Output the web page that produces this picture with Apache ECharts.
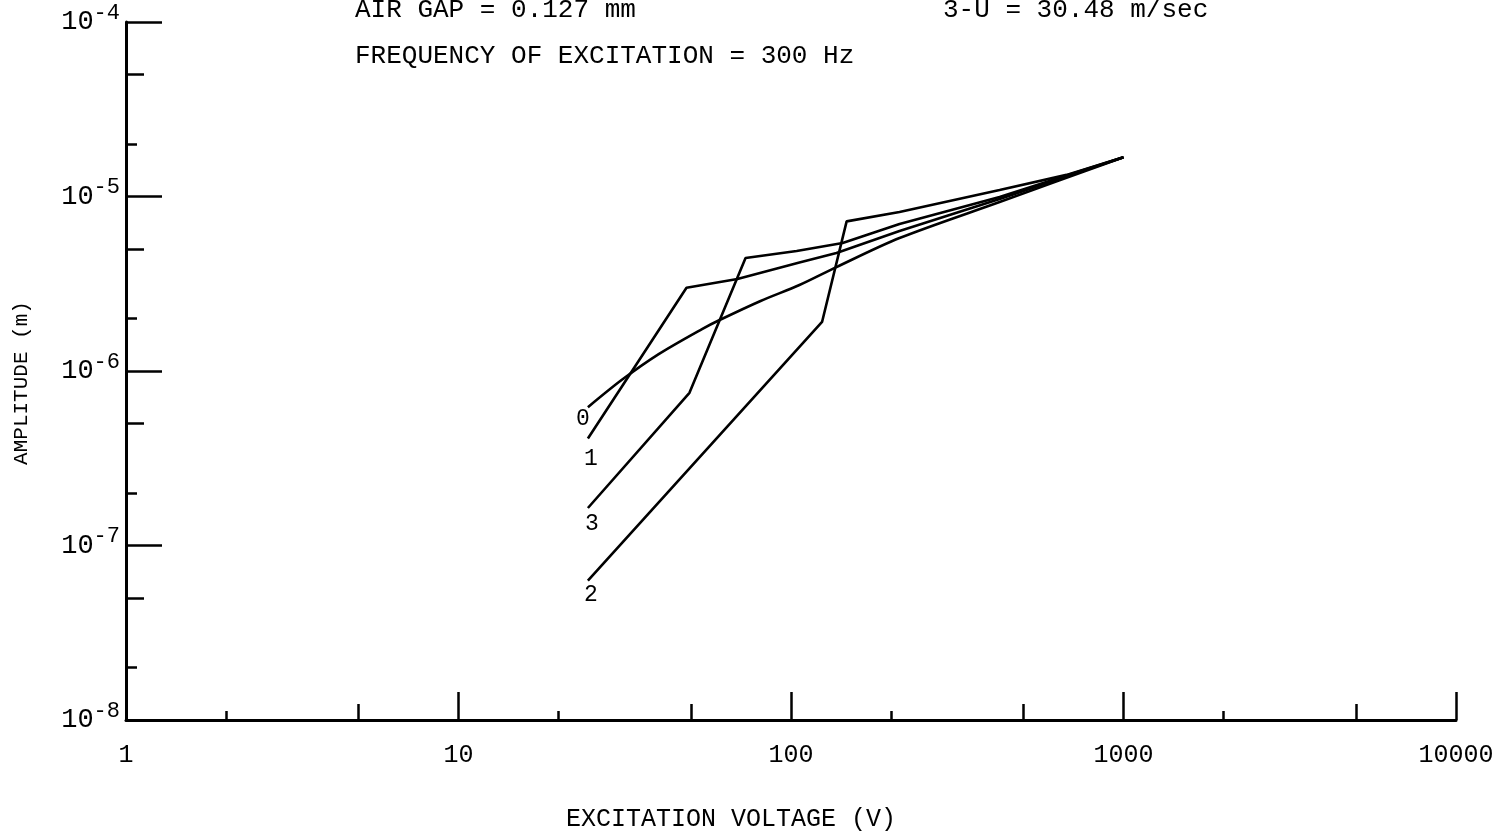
<!DOCTYPE html>
<html>
<head>
<meta charset="utf-8">
<script src="https://cdn.jsdelivr.net/npm/echarts@6.0.0/dist/echarts.min.js"></script>
<style>
html, body { margin: 0; padding: 0; background: #fff; }
#chart { width: 1502px; height: 832px; }
</style>
</head>
<body>
<div id="chart"></div>
<script>
// excitation voltage (V) and amplitude (m) of each curve
const volt0 = [24.5, 31, 40, 54, 61, 81, 106, 137, 212, 424, 1000];
const amp0 = [6.2e-7, 8.9e-7, 1.25e-6, 1.74e-6, 1.96e-6, 2.52e-6, 3.11e-6, 3.94e-6, 5.78e-6, 9.3e-6, 1.68e-5];
const volt1 = [24.5, 48.5, 69, 106, 137, 212, 424, 1000];
const amp1 = [4.1e-7, 3.0e-6, 3.37e-6, 4.18e-6, 4.74e-6, 6.34e-6, 9.67e-6, 1.68e-5];
const volt3 = [24.5, 49.5, 73, 104, 143, 212, 424, 1000];
const amp3 = [1.64e-7, 7.5e-7, 4.44e-6, 4.87e-6, 5.41e-6, 6.96e-6, 9.93e-6, 1.68e-5];
const volt2 = [24.5, 124, 147, 212, 424, 674, 1000];
const amp2 = [6.3e-8, 1.91e-6, 7.2e-6, 8.15e-6, 1.09e-5, 1.33e-5, 1.68e-5];

// tick values
const xMajor = [1, 10, 100, 1000, 10000];
const xMid = [5, 50, 500, 5000];
const xMinor = [2, 20, 200, 2000];
const yMajor = [1e-8, 1e-7, 1e-6, 1e-5, 1e-4];
const yMid = [5e-8, 5e-7, 5e-6, 5e-5];
const yMinor = [2e-8, 2e-7, 2e-6, 2e-5];

const font = "Liberation Mono";
const myChart = echarts.init(document.getElementById("chart"));

function makeSeries(name, volts, amps, labelPos) {
  return {
    name: name,
    type: "line",
    xAxisIndex: 0,
    yAxisIndex: 0,
    symbol: "circle",
    symbolSize: 0,
    showAllSymbol: true,
    smooth: name === "0" ? 0.3 : false,
    lineStyle: { color: "#000", width: 2.6 },
    itemStyle: { color: "#000" },
    data: volts.map((v, i) => {
      if (i !== 0) return [v, amps[i]];
      return {
        value: [v, amps[i]],
        label: Object.assign({
          show: true,
          formatter: "{a}",
          position: "bottom",
          color: "#000",
          fontFamily: font,
          fontSize: 23,
        }, labelPos),
      };
    }),
  };
}

function tickAxis(gridIndex, values, len, min, max) {
  return {
    type: "log",
    gridIndex: gridIndex,
    min: min,
    max: max,
    axisLine: { show: false },
    axisLabel: { show: false },
    splitLine: { show: false },
    axisTick: {
      show: true,
      inside: true,
      length: len,
      customValues: values,
      lineStyle: { color: "#000", width: 2.5 },
    },
  };
}

const grid = { left: 126, right: 46, top: 22, bottom: 112, outerBoundsMode: "none", containLabel: false };

let option = {
  animation: false,
  backgroundColor: "#fff",
  title: [
    { text: "AIR GAP = 0.127 mm", left: 355, top: -3, padding: 0,
      textStyle: { fontFamily: font, fontSize: 26, fontWeight: "normal", color: "#000" } },
    { text: "3-U = 30.48 m/sec", left: 943, top: -3, padding: 0,
      textStyle: { fontFamily: font, fontSize: 26, fontWeight: "normal", color: "#000" } },
    { text: "FREQUENCY OF EXCITATION = 300 Hz", left: 355, top: 43, padding: 0,
      textStyle: { fontFamily: font, fontSize: 26, fontWeight: "normal", color: "#000" } },
  ],
  grid: [grid, grid, grid],
  xAxis: [
    {
      type: "log",
      gridIndex: 0,
      min: 1,
      max: 10000,
      name: "EXCITATION VOLTAGE (V)",
      nameLocation: "middle",
      nameGap: 87,
      nameTextStyle: { fontFamily: font, fontSize: 25, color: "#000", padding: [0, 120, 0, 0] },
      axisLine: { show: true, lineStyle: { color: "#000", width: 3 } },
      axisTick: {
        show: true,
        inside: true,
        length: 28,
        customValues: xMajor,
        lineStyle: { color: "#000", width: 2.5 },
      },
      axisLabel: {
        customValues: xMajor,
        margin: 23,
        formatter: (v) => String(v),
        fontFamily: font,
        fontSize: 25,
        color: "#000",
      },
      splitLine: { show: false },
    },
    tickAxis(1, xMid, 16, 1, 10000),
    tickAxis(2, xMinor, 9, 1, 10000),
  ],
  yAxis: [
    {
      type: "log",
      gridIndex: 0,
      min: 1e-8,
      max: 1e-4,
      name: "AMPLITUDE (m)",
      nameLocation: "middle",
      nameGap: 94,
      nameTextStyle: { fontFamily: font, fontSize: 21, color: "#000", padding: [0, 24, 0, 0] },
      axisLine: { show: true, lineStyle: { color: "#000", width: 3 } },
      axisTick: {
        show: true,
        inside: true,
        length: 36,
        customValues: yMajor,
        lineStyle: { color: "#000", width: 2.5 },
      },
      axisLabel: {
        customValues: yMajor,
        margin: 6,
        formatter: (v) => "{b|10}{s|" + Math.round(Math.log10(v)) + "}",
        rich: {
          b: { fontFamily: font, fontSize: 27, lineHeight: 40, color: "#000" },
          s: { fontFamily: font, fontSize: 22, lineHeight: 22, verticalAlign: "top", color: "#000" },
        },
      },
      splitLine: { show: false },
    },
    tickAxis(1, yMid, 18, 1e-8, 1e-4),
    tickAxis(2, yMinor, 11, 1e-8, 1e-4),
  ],
  series: [
    makeSeries("0", volt0, amp0, { distance: 0, offset: [-5, 0] }),
    makeSeries("1", volt1, amp1, { distance: 9, offset: [3, 0] }),
    makeSeries("3", volt3, amp3, { distance: 4, offset: [4, 0] }),
    makeSeries("2", volt2, amp2, { distance: 3, offset: [3, 0] }),
  ],
};

option && myChart.setOption(option);
</script>
</body>
</html>
